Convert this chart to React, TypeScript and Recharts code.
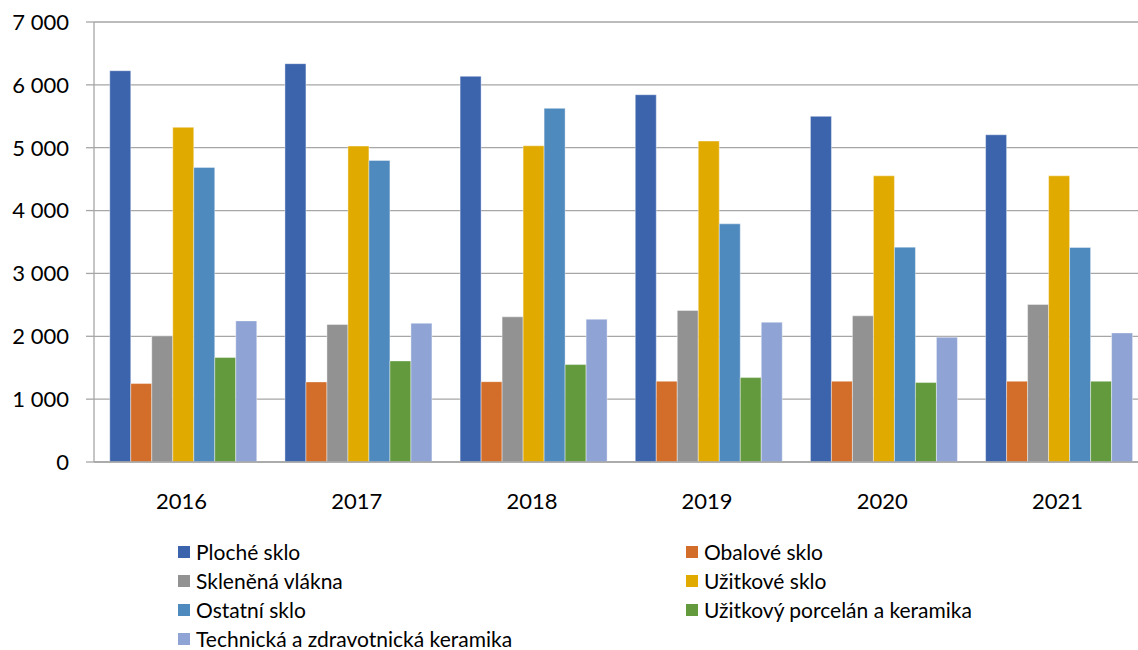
import { BarChart, Bar, XAxis, YAxis, CartesianGrid, Legend } from 'recharts'

const years = ['2016', '2017', '2018', '2019', '2020', '2021']

const ploche = [6225, 6337, 6136, 5843, 5499, 5206]
const obalove = [1248, 1274, 1278, 1285, 1285, 1285]
const sklenena = [2006, 2187, 2309, 2410, 2325, 2506]
const uzitkove = [5324, 5026, 5031, 5106, 4553, 4553]
const ostatni = [4687, 4798, 5626, 3789, 3418, 3413]
const porcelan = [1662, 1608, 1550, 1343, 1264, 1285]
const technicka = [2245, 2208, 2272, 2224, 1985, 2054]

const yTicks = [0, 1000, 2000, 3000, 4000, 5000, 6000, 7000]
const boundaryTicks = [0, 1, 2, 3, 4, 5, 6]

const series = [
  { key: 'ploche', name: 'Ploché sklo', color: '#3c64ad', values: ploche },
  { key: 'obalove', name: 'Obalové sklo', color: '#d36e2a', values: obalove },
  { key: 'sklenena', name: 'Skleněná vlákna', color: '#929292', values: sklenena },
  { key: 'uzitkove', name: 'Užitkové sklo', color: '#e1aa00', values: uzitkove },
  { key: 'ostatni', name: 'Ostatní sklo', color: '#4f8abe', values: ostatni },
  { key: 'porcelan', name: 'Užitkový porcelán a keramika', color: '#639a3e', values: porcelan },
  { key: 'technicka', name: 'Technická a zdravotnická keramika', color: '#8fa3d4', values: technicka },
]

const data = years.map((year, i) => {
  const row: Record<string, string | number> = { year }
  series.forEach(s => { row[s.key] = s.values[i] })
  return row
})

const FONT = 'Lato, "Open Sans", sans-serif'
const AXIS = '#a6a6a6'

const fmt = (v: number) => String(v).replace(/\B(?=(\d{3})+(?!\d))/g, ' ')

function LegendBox() {
  return (
    <div style={{ display: 'grid', gridTemplateColumns: '508px 440px', paddingLeft: 178, fontFamily: FONT, fontSize: 21, lineHeight: '24px', color: '#000' }}>
      {series.map(s => (
        <div key={s.key} style={{ display: 'flex', alignItems: 'center', height: 29.2, whiteSpace: 'nowrap' }}>
          <span style={{ width: 12, height: 12, background: s.color, marginRight: 6, display: 'inline-block', flex: 'none' }} />
          {s.name}
        </div>
      ))}
    </div>
  )
}

export default function App() {
  return (
    <div style={{ position: 'absolute', left: 0, top: 0, width: 1138, height: 650, overflow: 'hidden', background: '#fff' }}>
      <BarChart width={1150} height={650} data={data} margin={{ top: 22, right: 5, bottom: 128, left: 0 }}
        barCategoryGap="9%" barGap={0}>
        <CartesianGrid vertical={false} stroke={AXIS} strokeWidth={1.3} />
        <XAxis xAxisId="b" type="number" domain={[0, 6]} ticks={boundaryTicks} height={0}
          axisLine={false} tickSize={8} tickLine={{ stroke: AXIS, strokeWidth: 1.3 }} tickFormatter={() => ''} />
        <XAxis dataKey="year" height={60} tickLine={false} tickMargin={25}
          axisLine={{ stroke: AXIS, strokeWidth: 1.3 }}
          tick={{ fill: '#000', fontSize: 22, fontFamily: FONT }} />
        <YAxis width={94} domain={[0, 7000]} ticks={yTicks} tickFormatter={fmt} tickSize={8} tickMargin={17}
          axisLine={{ stroke: AXIS, strokeWidth: 1.3 }} tickLine={{ stroke: AXIS, strokeWidth: 1.3 }}
          tick={{ fill: '#000', fontSize: 22, fontFamily: FONT }} />
        {series.map(s => (
          <Bar key={s.key} dataKey={s.key} name={s.name} fill={s.color}
            stroke="#ffffff" strokeOpacity={0.5} strokeWidth={0.8} isAnimationActive={false} />
        ))}
        <Legend layout="horizontal" verticalAlign="middle" align="center" content={() => <LegendBox />}
          wrapperStyle={{ position: 'absolute', top: 537, left: 0, width: 1138, height: 113 }} />
      </BarChart>
    </div>
  )
}
